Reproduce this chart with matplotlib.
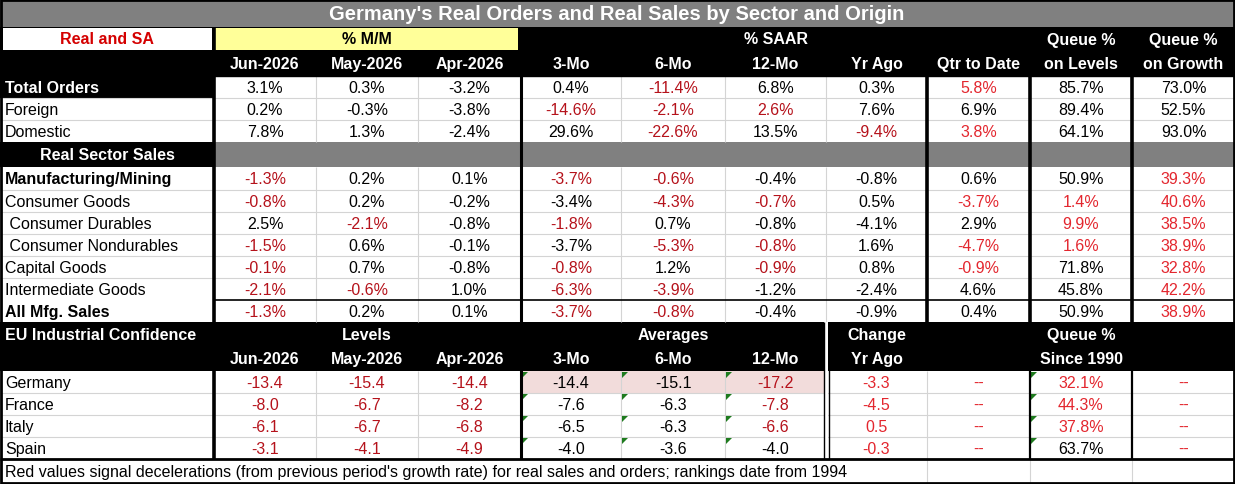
import matplotlib
matplotlib.use("Agg")
import matplotlib.pyplot as plt
from matplotlib.patches import Rectangle, Polygon

plt.rcParams['font.family'] = ['Liberation Sans', 'DejaVu Sans']

title = "Germany's Real Orders and Real Sales by Sector and Origin"
col_names = ["Jun-2026", "May-2026", "Apr-2026", "3-Mo", "6-Mo", "12-Mo",
             "Yr Ago", "Qtr to Date", "on Levels", "on Growth"]

order_labels = ["Total Orders", "Foreign", "Domestic"]
order_vals = [
    [3.1, 0.3, -3.2, 0.4, -11.4, 6.8, 0.3, 5.8, 85.7, 73.0],
    [0.2, -0.3, -3.8, -14.6, -2.1, 2.6, 7.6, 6.9, 89.4, 52.5],
    [7.8, 1.3, -2.4, 29.6, -22.6, 13.5, -9.4, 3.8, 64.1, 93.0],
]
order_red = [
    [0, 0, 0, 0, 1, 0, 0, 1, 0, 0],
    [0, 0, 0, 1, 1, 1, 0, 0, 0, 0],
    [0, 0, 0, 0, 1, 0, 1, 1, 0, 0],
]

sales_labels = ["Manufacturing/Mining", "Consumer Goods", " Consumer Durables",
                " Consumer Nondurables", "Capital Goods", "Intermediate Goods",
                "All Mfg. Sales"]
sales_vals = [
    [-1.3, 0.2, 0.1, -3.7, -0.6, -0.4, -0.8, 0.6, 50.9, 39.3],
    [-0.8, 0.2, -0.2, -3.4, -4.3, -0.7, 0.5, -3.7, 1.4, 40.6],
    [2.5, -2.1, -0.8, -1.8, 0.7, -0.8, -4.1, 2.9, 9.9, 38.5],
    [-1.5, 0.6, -0.1, -3.7, -5.3, -0.8, 1.6, -4.7, 1.6, 38.9],
    [-0.1, 0.7, -0.8, -0.8, 1.2, -0.9, 0.8, -0.9, 71.8, 32.8],
    [-2.1, -0.6, 1.0, -6.3, -3.9, -1.2, -2.4, 4.6, 45.8, 42.2],
    [-1.3, 0.2, 0.1, -3.7, -0.8, -0.4, -0.9, 0.4, 50.9, 38.9],
]
sales_red = [
    [1, 0, 0, 1, 1, 0, 0, 0, 0, 1],
    [1, 0, 0, 0, 1, 1, 0, 1, 1, 1],
    [0, 1, 0, 1, 0, 0, 0, 0, 1, 1],
    [1, 0, 0, 0, 1, 1, 0, 1, 1, 1],
    [1, 0, 0, 1, 0, 1, 0, 1, 0, 1],
    [1, 1, 0, 1, 1, 0, 0, 0, 0, 1],
    [1, 0, 0, 1, 1, 0, 0, 0, 0, 1],
]

eu_labels = ["Germany", "France", "Italy", "Spain"]
eu_cols = ["Jun-2026", "May-2026", "Apr-2026", "3-Mo", "6-Mo", "12-Mo",
           "Yr Ago", "", "Since 1990", ""]
eu_vals = [
    [-13.4, -15.4, -14.4, -14.4, -15.1, -17.2, -3.3],
    [-8.0, -6.7, -8.2, -7.6, -6.3, -7.8, -4.5],
    [-6.1, -6.7, -6.8, -6.5, -6.3, -6.6, 0.5],
    [-3.1, -4.1, -4.9, -4.0, -3.6, -4.0, -0.3],
]
eu_queue = [32.1, 44.3, 37.8, 63.7]
eu_red = [
    [1, 1, 1, 0, 0, 1, 1, 1, 1, 1],
    [1, 1, 1, 0, 0, 1, 1, 1, 1, 1],
    [1, 1, 1, 0, 0, 1, 1, 1, 1, 1],
    [1, 1, 1, 0, 0, 0, 1, 1, 0, 1],
]
footnote = ("Red values signal decelerations (from previous period's growth rate) "
            "for real sales and orders; rankings date from 1994")

# ---- layout (pixels) ----
xs = [0, 214, 316, 418, 521, 621, 725, 826, 927, 1030, 1132, 1235]
ys = [0, 28, 51, 77, 99, 121, 143, 168, 191, 213, 235, 257, 279, 301, 323,
      347, 372, 394, 416, 438, 460, 484]
FS = 11.5
BLACK = '#000000'
GRAY = '#808080'
GRID = '#d4d4d4'
DARK_RED = '#b5121b'
BRIGHT_RED = '#e3262e'

fig = plt.figure(figsize=(12.35, 4.85), dpi=100)
ax = fig.add_axes([0, 0, 1, 1])
ax.set_xlim(0, 1235)
ax.set_ylim(485, 0)
ax.axis('off')


def box(x0, x1, y0, y1, color, z=1):
    ax.add_patch(Rectangle((x0, y0), x1 - x0, y1 - y0, facecolor=color,
                           edgecolor='none', zorder=z))


def cx(c):
    return (xs[c] + xs[c + 1]) / 2


def cy(r):
    return (ys[r] + ys[r + 1]) / 2 + 0.5


def txt(x, y, s, color=BLACK, bold=False, ha='center', size=FS):
    ax.text(x, y, s, color=color, fontsize=size, ha=ha, va='center',
            fontweight='bold' if bold else 'normal', zorder=5)


# background
box(0, 1235, 0, 485, 'white', 0)

# title
box(0, 1235, ys[0], ys[1], GRAY)
txt(617, cy(0), title, color='white', bold=True, size=14.5)

# row 1: Real and SA / % M/M / % SAAR
box(0, 1235, ys[1], ys[3], BLACK)
box(3, xs[1] - 2, ys[1] + 1, ys[2], 'white', 2)
box(xs[1] + 1, xs[4] - 3, ys[1] + 1, ys[2], '#ffff99', 2)
txt(cx(0), cy(1), "Real and SA", color='#d40000', bold=True)
txt(cx(2), cy(1), "% M/M", bold=True)
txt(cx(6), cy(1), "% SAAR", color='white', bold=True)
txt(cx(9), cy(1), "Queue %", color='white', bold=True)
txt(cx(10), cy(1), "Queue %", color='white', bold=True)
for c, name in enumerate(col_names):
    txt(cx(c + 1), cy(2), name, color='white', bold=True)


def fmt(v, pct=True):
    return f"{v:.1f}%" if pct else f"{v:.1f}"


def data_row(r, label, vals, reds, label_style):
    if label_style == 'black':
        box(0, xs[1], ys[r], ys[r + 1], BLACK, 1)
        txt(5, cy(r), label, color='white', bold=True, ha='left')
    else:
        txt(5, cy(r), label, bold=(label_style == 'bold'), ha='left')
    for c, v in enumerate(vals):
        if reds[c]:
            col = BRIGHT_RED if c >= 7 else DARK_RED
        else:
            col = BLACK
        txt(cx(c + 1), cy(r), fmt(v), color=col)


# orders block
styles = ['black', 'plain', 'plain']
for i in range(3):
    data_row(3 + i, order_labels[i], order_vals[i], order_red[i], styles[i])

# real sector sales header row
box(0, xs[1], ys[6], ys[7], BLACK)
box(xs[1], 1235, ys[6], ys[7], GRAY)
txt(cx(0), cy(6), "Real Sector Sales", color='white', bold=True)

# sales block
for i in range(7):
    st = 'bold' if i in (0, 6) else 'plain'
    data_row(7 + i, sales_labels[i], sales_vals[i], sales_red[i], st)

# EU header
box(0, 1235, ys[14], ys[16], BLACK)
txt(5, cy(14), "EU Industrial Confidence", color='white', bold=True, ha='left')
txt(cx(2), cy(14), "Levels", color='white', bold=True)
txt(cx(5), cy(14), "Averages", color='white', bold=True)
txt(cx(7), cy(14), "Change", color='white', bold=True)
txt(cx(9), cy(14), "Queue %", color='white', bold=True)
for c, name in enumerate(eu_cols):
    if name:
        txt(cx(c + 1), cy(15), name, color='white', bold=True)

# EU rows
box(xs[4], xs[7], ys[16], ys[17], '#f2dcdb', 1)
for i in range(4):
    r = 16 + i
    txt(5, cy(r), eu_labels[i], ha='left')
    cells = [fmt(v, False) for v in eu_vals[i]] + ["--", fmt(eu_queue[i]), "--"]
    for c, s in enumerate(cells):
        if eu_red[i][c]:
            col = BRIGHT_RED if c >= 6 else DARK_RED
        else:
            col = BLACK
        txt(cx(c + 1), cy(r), s, color=col)
    for c in (4, 5, 6, 9):
        x0, y0 = xs[c] + 1, ys[r] + 1
        ax.add_patch(Polygon([(x0, y0), (x0 + 6, y0), (x0, y0 + 6)],
                             closed=True, facecolor='#1e7b1e', edgecolor='none',
                             zorder=4))

# footnote
txt(5, cy(20), footnote, ha='left')

# ---- grid lines ----
def hline(y, x0, x1, color=GRID, lw=0.8, z=3):
    ax.plot([x0, x1], [y, y], color=color, lw=lw, zorder=z, solid_capstyle='butt')


def vline(x, y0, y1, color=GRID, lw=0.8, z=3):
    ax.plot([x, x], [y0, y1], color=color, lw=lw, zorder=z, solid_capstyle='butt')


for r in (4, 5, 8, 9, 10, 11, 12, 17, 18, 19):
    hline(ys[r], 0, 1235)
for c in (2, 3, 5, 6, 7):
    vline(xs[c], ys[3], ys[6])
    vline(xs[c], ys[7], ys[14])
for c in (2, 3, 5, 6, 8):
    vline(xs[c], ys[16], ys[20])
for c in (8, 9, 10):
    vline(xs[c], ys[20], ys[21])

hline(ys[13], xs[1], 1235, color=BLACK, lw=1.2)
hline(ys[3], 0, 1235, color=BLACK, lw=1.0)

# thick separators
vline(xs[1], ys[1], ys[20], color=BLACK, lw=2.6, z=4)
vline(xs[4], ys[2], ys[20], color=BLACK, lw=2.2, z=4)
for c in (8, 9, 10):
    vline(xs[c], ys[3], ys[14], color=BLACK, lw=2.6, z=4)
for c in (9, 10):
    vline(xs[c], ys[16], ys[20], color=BLACK, lw=1.6, z=4)

# double line in EU block
box(xs[7] - 2, xs[7] + 2, ys[14], ys[20], 'white', 4)
vline(xs[7] - 2.5, ys[14], ys[20], color=BLACK, lw=1.0, z=4)
vline(xs[7] + 2.5, ys[14], ys[20], color=BLACK, lw=1.0, z=4)

# footer and outer borders
hline(ys[20], 0, 1235, color=BLACK, lw=2.0, z=4)
ax.add_patch(Rectangle((1, 1), 1233, 483, facecolor='none', edgecolor=BLACK,
                       lw=2.0, zorder=6))

fig.savefig("out.png", dpi=100)
